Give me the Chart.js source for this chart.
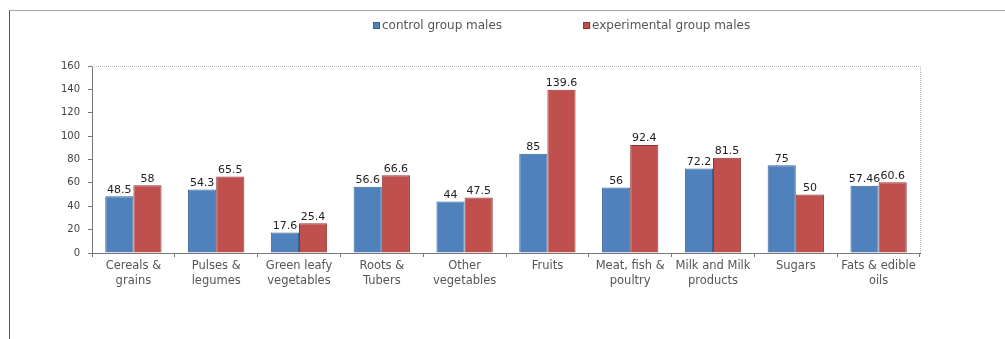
<!DOCTYPE html>
<html lang="en">
<head>
    <meta charset="UTF-8">
    <title>Food intake: control vs experimental group males</title>
    <script src="https://cdn.jsdelivr.net/npm/chart.js"></script>
    <style>
        html, body { margin: 0; padding: 0; background: #fff; }
        .wrap { position: relative; width: 1005px; height: 339px; }
        .frame {
            position: absolute; left: 9px; top: 10px; right: 0; bottom: 0;
            border-top: 1px solid #a5a5a5; border-left: 1px solid #555;
            pointer-events: none;
        }
        canvas { position: absolute; left: 0; top: 0; }
    </style>
</head>
<body>
<div class="wrap">
    <canvas id="intakeChart" width="1005" height="339"></canvas>
    <div class="frame"></div>
</div>

<script>
    // categories and group values
    const categories = [
        ['Cereals &', 'grains'],
        ['Pulses &', 'legumes'],
        ['Green leafy', 'vegetables'],
        ['Roots &', 'Tubers'],
        ['Other', 'vegetables'],
        'Fruits',
        ['Meat, fish &', 'poultry'],
        ['Milk and Milk', 'products'],
        'Sugars',
        ['Fats & edible', 'oils']
    ];
    const controlMales = [48.5, 54.3, 17.6, 56.6, 44, 85, 56, 72.2, 75, 57.46];
    const experimentalMales = [58, 65.5, 25.4, 66.6, 47.5, 139.6, 92.4, 81.5, 50, 60.6];
    const yTicks = [0, 20, 40, 60, 80, 100, 120, 140, 160];

    const FONT = '"DejaVu Sans", sans-serif';

    // legend drawn at the top, items spread out
    const topLegend = {
        id: 'topLegend',
        afterDraw(chart) {
            const ctx = chart.ctx;
            ctx.save();
            ctx.font = '12px ' + FONT;
            ctx.textBaseline = 'middle';
            let x = 373;
            const y = 26;
            chart.data.datasets.forEach(ds => {
                ctx.fillStyle = ds.backgroundColor;
                ctx.fillRect(x, y - 4, 7, 7);
                ctx.strokeStyle = ds.borderColor;
                ctx.lineWidth = 1;
                ctx.strokeRect(x + 0.5, y - 3.5, 6, 6);
                ctx.fillStyle = '#555';
                ctx.fillText(ds.label, x + 9, y);
                x += 9 + ctx.measureText(ds.label).width + 81;
            });
            ctx.restore();
        }
    };

    // value printed above each bar
    const valueLabels = {
        id: 'valueLabels',
        afterDatasetsDraw(chart) {
            const ctx = chart.ctx;
            ctx.save();
            ctx.font = '11px ' + FONT;
            ctx.fillStyle = '#222';
            ctx.textAlign = 'center';
            ctx.textBaseline = 'bottom';
            chart.data.datasets.forEach((ds, i) => {
                chart.getDatasetMeta(i).data.forEach((bar, j) => {
                    ctx.fillText(String(ds.data[j]), bar.x, bar.y - 1);
                });
            });
            ctx.restore();
        }
    };

    // dotted top and right edges of the plot area
    const plotEdge = {
        id: 'plotEdge',
        beforeDatasetsDraw(chart) {
            const a = chart.chartArea;
            const ctx = chart.ctx;
            ctx.save();
            ctx.strokeStyle = '#b5b5b5';
            ctx.lineWidth = 1;
            ctx.setLineDash([1, 1]);
            ctx.beginPath();
            ctx.moveTo(a.left, a.top + 0.5);
            ctx.lineTo(a.right + 0.5, a.top + 0.5);
            ctx.lineTo(a.right + 0.5, a.bottom);
            ctx.stroke();
            ctx.restore();
        }
    };

    new Chart(document.getElementById('intakeChart'), {
        type: 'bar',
        data: {
            labels: categories,
            datasets: [{
                label: 'control group males',
                data: controlMales,
                backgroundColor: '#4f81bd',
                borderColor: '#3b6494',
                borderWidth: 1
            }, {
                label: 'experimental group males',
                data: experimentalMales,
                backgroundColor: '#c0504d',
                borderColor: '#8e3533',
                borderWidth: 1
            }]
        },
        options: {
            responsive: false,
            animation: false,
            categoryPercentage: 0.68,
            barPercentage: 1,
            layout: { padding: { left: 52, right: 85, top: 66, bottom: 46 } },
            plugins: {
                legend: { display: false },
                tooltip: { enabled: false }
            },
            scales: {
                x: {
                    grid: { display: true, offset: true, drawOnChartArea: false, tickLength: 4, color: '#777' },
                    border: { color: '#777' },
                    ticks: {
                        color: '#555',
                        font: { family: FONT, size: 11.5, lineHeight: 1.25 },
                        padding: 2,
                        maxRotation: 0,
                        autoSkip: false
                    },
                    afterFit(scale) { scale.height = 40; }
                },
                y: {
                    min: 0,
                    max: 160,
                    afterBuildTicks(scale) { scale.ticks = yTicks.map(v => ({ value: v })); },
                    grid: { display: true, drawOnChartArea: false, tickLength: 4, color: '#777' },
                    border: { color: '#777' },
                    ticks: {
                        color: '#444',
                        font: { family: FONT, size: 10 },
                        padding: 8
                    },
                    afterFit(scale) { scale.width = 40; }
                }
            }
        },
        plugins: [plotEdge, valueLabels, topLegend]
    });
</script>
</body>
</html>
